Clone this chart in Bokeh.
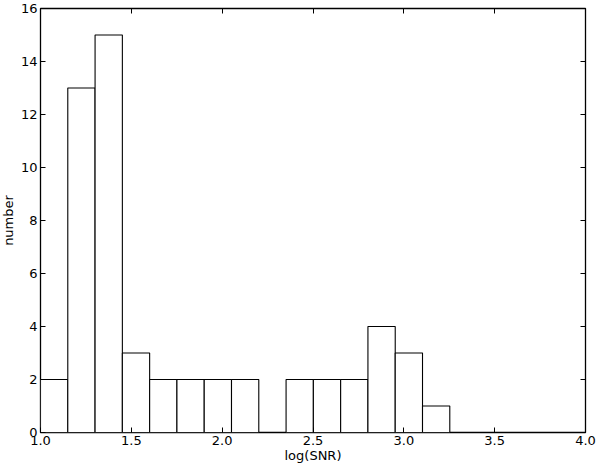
from bokeh.plotting import figure
from bokeh.models import LinearAxis, FixedTicker, Range1d, ColumnDataSource, CustomJSTickFormatter
from bokeh.embed import file_html
from bokeh.resources import INLINE

# Histogram of log(SNR)
bin_start = 1.0
bin_width = 0.1502
counts = [2, 13, 15, 3, 2, 2, 2, 2, 0, 2, 2, 2, 4, 3, 1]
x_ticks = [1.0, 1.5, 2.0, 2.5, 3.0, 3.5, 4.0]
y_ticks = [0, 2, 4, 6, 8, 10, 12, 14, 16]

lefts = [bin_start + i * bin_width for i in range(len(counts))]
rights = [l + bin_width for l in lefts]
src = ColumnDataSource(dict(left=lefts, right=rights, top=counts, bottom=[0] * len(counts)))

FONT = "DejaVu Sans"
FS = "13px"

p = figure(width=608, height=477, output_backend="svg", toolbar_location=None,
           x_range=Range1d(1.0, 4.0), y_range=Range1d(0, 16),
           min_border_left=48, min_border_right=15, min_border_top=16, min_border_bottom=37)
p.styles = {"margin-top": "-8px", "margin-left": "-8px"}
p.grid.visible = False
p.outline_line_color = "black"
p.outline_line_width = 1.3
p.background_fill_color = "white"
p.border_fill_color = "white"

p.quad(left="left", right="right", top="top", bottom="bottom", source=src,
       fill_color="white", line_color="black", line_width=1.1)

def style_axis(ax, labels=True):
    ax.major_tick_in = 5
    ax.major_tick_out = 0
    ax.minor_tick_line_color = None
    ax.axis_line_color = None
    ax.major_tick_line_color = "black"
    ax.major_label_text_font = FONT
    ax.major_label_text_font_size = FS if labels else "0px"
    ax.major_label_text_color = "black"
    ax.axis_label_text_font = FONT
    ax.axis_label_text_font_size = FS
    ax.axis_label_text_font_style = "normal"
    ax.axis_label_text_color = "black"

xa = p.xaxis[0]
xa.ticker = FixedTicker(ticks=x_ticks)
xa.major_label_overrides = {t: f"{t:.1f}" for t in x_ticks}
xa.axis_label = "log(SNR)"
style_axis(xa)
xa.major_label_standoff = 3
xa.axis_label_standoff = 0

ya = p.yaxis[0]
ya.ticker = FixedTicker(ticks=y_ticks)
ya.axis_label = "number"
style_axis(ya)
ya.major_label_standoff = 3
ya.axis_label_standoff = 2

blank = CustomJSTickFormatter(code="return ''")
ra = LinearAxis(ticker=FixedTicker(ticks=y_ticks), formatter=blank)
style_axis(ra, labels=False)
p.add_layout(ra, "right")
ta = LinearAxis(ticker=FixedTicker(ticks=x_ticks), formatter=blank)
style_axis(ta, labels=False)
p.add_layout(ta, "above")

open("out.html", "w").write(file_html(p, INLINE))
